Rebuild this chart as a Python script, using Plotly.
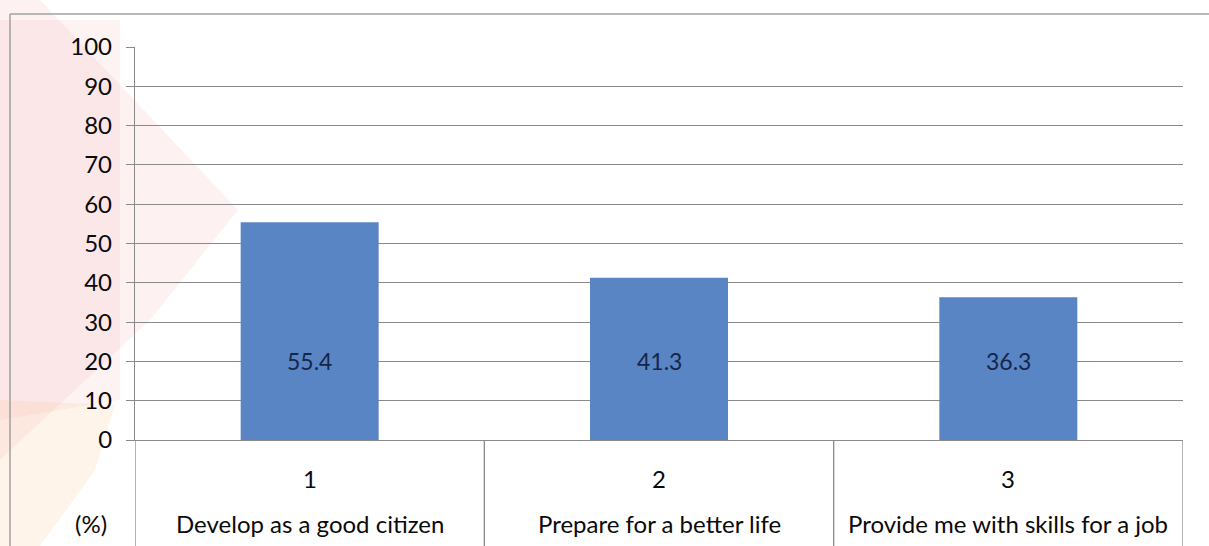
import plotly.graph_objects as go

categories = ["Develop as a good citizen", "Prepare for a better life", "Provide me with skills for a job"]
numbers = ["1", "2", "3"]
values = [55.4, 41.3, 36.3]
y_ticks = [0, 10, 20, 30, 40, 50, 60, 70, 80, 90, 100]
unit_label = "(%)"

W, H = 1209, 546
L, R, T, B = 135, 1183, 47, 440  # plot area in pixels
pw, ph = R - L, B - T

def px(x):
    return (x - L) / pw

def py(y):
    return (B - y) / ph

FONT = "Lato"
GRID = "#8a8a8a"
xs = list(range(len(categories)))

fig = go.Figure()
fig.add_trace(go.Bar(
    x=xs, y=values, width=0.395,
    marker=dict(color="#5A85C5", line=dict(width=0)),
    hoverinfo="skip",
))

shapes = []
# faint watermark at left
shapes.append(dict(type="path", xref="paper", yref="paper", layer="below",
    path=f"M {px(0)},{py(0)} L {px(40)},{py(0)} L {px(238)},{py(210)} L {px(150)},{py(320)} L {px(0)},{py(460)} Z",
    fillcolor="rgba(240,170,170,0.16)", line=dict(width=0)))
shapes.append(dict(type="path", xref="paper", yref="paper", layer="below",
    path=f"M {px(0)},{py(20)} L {px(120)},{py(20)} L {px(120)},{py(400)} L {px(0)},{py(420)} Z",
    fillcolor="rgba(240,170,170,0.14)", line=dict(width=0)))
shapes.append(dict(type="path", xref="paper", yref="paper", layer="below",
    path=f"M {px(0)},{py(400)} L {px(115)},{py(405)} L {px(95)},{py(470)} L {px(40)},{py(546)} L {px(0)},{py(546)} Z",
    fillcolor="rgba(250,200,150,0.20)", line=dict(width=0)))
# outer frame
shapes.append(dict(type="line", xref="paper", yref="paper", x0=px(10), x1=px(1209), y0=py(14), y1=py(14),
                   line=dict(color="#a0a0a0", width=1.5)))
shapes.append(dict(type="line", xref="paper", yref="paper", x0=px(10), x1=px(10), y0=py(14), y1=py(546),
                   line=dict(color="#a0a0a0", width=1.5)))
# table dividers below axis
for b in [-0.5, 0.5, 1.5, 2.5]:
    shapes.append(dict(type="line", xref="x", yref="paper", x0=b, x1=b, y0=0, y1=py(546),
                       line=dict(color=GRID, width=1.3)))

annotations = []
for i, (n, c, v) in enumerate(zip(numbers, categories, values)):
    annotations.append(dict(x=i, y=py(478), xref="x", yref="paper", text=n, showarrow=False,
                            font=dict(family=FONT, size=24, color="#0a0a0a"), xanchor="center", yanchor="middle"))
    annotations.append(dict(x=i, y=py(523), xref="x", yref="paper", text=c, showarrow=False,
                            font=dict(family=FONT, size=24, color="#0a0a0a"), xanchor="center", yanchor="middle"))
    annotations.append(dict(x=i, y=20, xref="x", yref="y", text=f"{v}", showarrow=False,
                            font=dict(family=FONT, size=23, color="#16264a"), xanchor="center", yanchor="middle"))
annotations.append(dict(x=px(91), y=py(523), xref="paper", yref="paper", text=unit_label, showarrow=False,
                        font=dict(family=FONT, size=24, color="#0a0a0a"), xanchor="center", yanchor="middle"))

fig.update_layout(
    width=W, height=H,
    margin=dict(l=L, r=W - R, t=T, b=H - B),
    paper_bgcolor="white", plot_bgcolor="rgba(0,0,0,0)",
    showlegend=False,
    shapes=shapes, annotations=annotations,
    xaxis=dict(range=[-0.5, 2.5], showticklabels=False, showgrid=False, zeroline=False,
               showline=True, linecolor=GRID, linewidth=1.3, ticks=""),
    yaxis=dict(range=[0, 100], tickvals=y_ticks, ticktext=[str(t) for t in y_ticks],
               showgrid=True, gridcolor=GRID, gridwidth=1.3, zeroline=False,
               showline=True, linecolor=GRID, linewidth=1.3,
               ticks="outside", ticklen=8, tickcolor=GRID, tickwidth=1.3,
               ticklabelstandoff=9,
               tickfont=dict(family=FONT, size=24, color="#0a0a0a")),
)

fig.write_html("out.html")
